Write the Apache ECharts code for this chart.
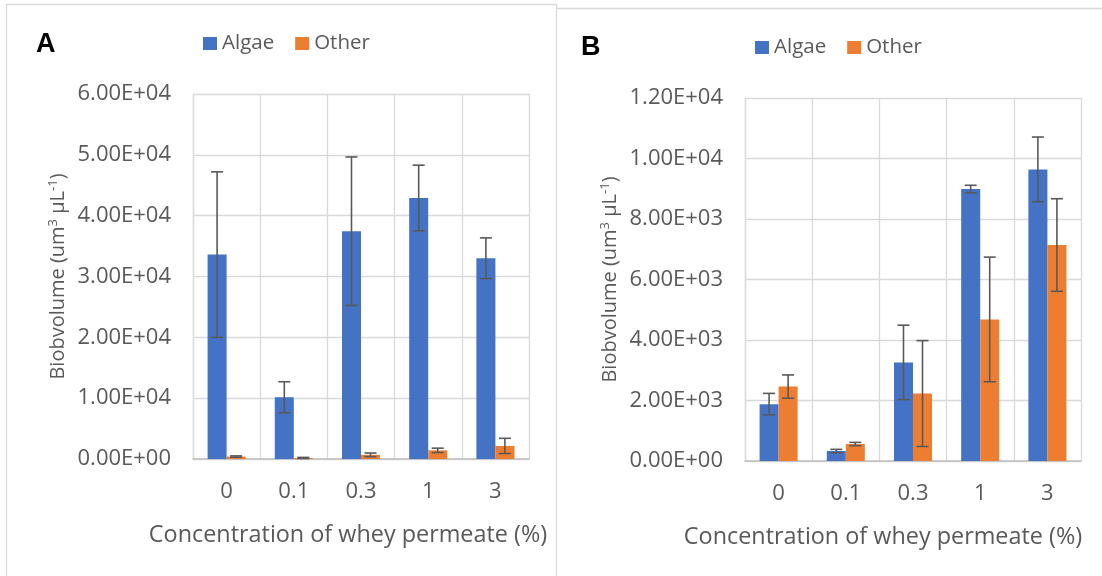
<!DOCTYPE html>
<html>
<head>
<meta charset="utf-8">
<script src="https://cdn.jsdelivr.net/npm/echarts@6/dist/echarts.min.js"></script>
<style>
  html, body { margin: 0; padding: 0; background: #fff; }
  #chart { width: 1102px; height: 576px; }
</style>
</head>
<body>
<div id="chart"></div>
<script>
// Whey permeate concentrations (%)
const categories = ['0', '0.1', '0.3', '1', '3'];

// Panel A: biovolume (um^3 µL^-1), means and standard errors
const algaeA    = [33600, 10150, 37450, 42900, 33000];
const algaeErrA = [13600, 2550, 12200, 5400, 3350];
const otherA    = [400, 170, 680, 1420, 2150];
const otherErrA = [110, 90, 300, 360, 1250];

// Panel B: biovolume (um^3 µL^-1), means and standard errors
const algaeB    = [1880, 330, 3260, 8990, 9640];
const algaeErrB = [355, 55, 1230, 125, 1070];
const otherB    = [2460, 560, 2230, 4680, 7140];
const otherErrB = [385, 55, 1750, 2060, 1530];

// Axis ranges
const yMaxA = 60000, yStepA = 10000;
const yMaxB = 12000, yStepB = 2000;

const BLUE = '#4472C4';
const ORANGE = '#ED7D31';
const TEXT = '#595959';
const GRID = '#d9d9d9';
const FONT = '"Open Sans", "Noto Sans", sans-serif';
const BAR_FRAC = 0.283;

function sci(v) {
  const parts = Number(v).toExponential(2).split('e');
  const exp = parseInt(parts[1], 10);
  const sign = exp < 0 ? '-' : '+';
  const e = String(Math.abs(exp)).padStart(2, '0');
  return parts[0] + 'E' + sign + e;
}

function errorSeries(name, values, errs, xIdx, side) {
  return {
    type: 'custom',
    name: name,
    xAxisIndex: xIdx,
    yAxisIndex: xIdx,
    z: 5,
    silent: true,
    data: values.map((v, i) => [i, v, errs[i]]),
    encode: { x: 0, y: 1 },
    renderItem: function (params, api) {
      const idx = api.value(0), val = api.value(1), err = api.value(2);
      const band = api.size([1, 0])[0];
      const dx = side * band * BAR_FRAC / 2;
      const hi = api.coord([idx, val + err]);
      const lo = api.coord([idx, Math.max(0, val - err)]);
      const x = hi[0] + dx;
      const cap = 6;
      const style = { stroke: TEXT, lineWidth: 1.6 };
      return {
        type: 'group',
        children: [
          { type: 'line', shape: { x1: x, y1: hi[1], x2: x, y2: lo[1] }, style: style },
          { type: 'line', shape: { x1: x - cap, y1: hi[1], x2: x + cap, y2: hi[1] }, style: style },
          { type: 'line', shape: { x1: x - cap, y1: lo[1], x2: x + cap, y2: lo[1] }, style: style }
        ]
      };
    }
  };
}

function barSeries(name, values, color, idx) {
  return {
    type: 'bar',
    name: name,
    xAxisIndex: idx,
    yAxisIndex: idx,
    data: values,
    barWidth: (BAR_FRAC * 100) + '%',
    barGap: '0%',
    itemStyle: { color: color },
    z: 2
  };
}

const yTitle = 'Biobvolume (um{sup|3} µL{sup|-1})';
const yTitleRich = {
  sup: { fontSize: 13, fontFamily: FONT, color: TEXT, verticalAlign: 'top', padding: [0, 0, 9, 0] }
};

function xAxisCfg(idx, shift) {
  return {
    type: 'category',
    gridIndex: idx,
    data: categories,
    axisTick: { show: false },
    axisLine: { show: true, lineStyle: { color: '#bfbfbf', width: 1.5 } },
    axisLabel: { color: TEXT, fontFamily: FONT, fontSize: 22, margin: 22 },
    splitLine: { show: true, lineStyle: { color: GRID, width: 1.3 } },
    name: 'Concentration of whey permeate (%)',
    nameLocation: 'middle',
    nameGap: 65,
    nameTextStyle: { color: TEXT, fontFamily: FONT, fontSize: 23.4, padding: [0, shift * 2, 0, 0] }
  };
}

function yAxisCfg(idx, max, step) {
  return {
    type: 'value',
    gridIndex: idx,
    min: 0,
    max: max,
    interval: step,
    axisLine: { show: true, lineStyle: { color: GRID, width: 1.3 } },
    axisTick: { show: false },
    axisLabel: { color: TEXT, fontFamily: FONT, fontSize: 22, margin: 22, formatter: sci },
    splitLine: { show: true, lineStyle: { color: GRID, width: 1.3 } },
    name: yTitle,
    nameLocation: 'middle',
    nameRotate: 90,
    nameGap: 124,
    nameTextStyle: { color: TEXT, fontFamily: FONT, fontSize: 20, rich: yTitleRich }
  };
}

const legendText = { color: TEXT, fontFamily: FONT, fontSize: 20.5 };

const chart = echarts.init(document.getElementById('chart'), null, { renderer: 'canvas' });

chart.setOption({
  backgroundColor: '#ffffff',
  animation: false,
  textStyle: { fontFamily: FONT },
  graphic: [
    // panel frames
    { type: 'line', shape: { x1: 6, y1: 4.5, x2: 556, y2: 4.5 }, style: { stroke: GRID, lineWidth: 1.3 } },
    { type: 'line', shape: { x1: 6.5, y1: 4, x2: 6.5, y2: 576 }, style: { stroke: GRID, lineWidth: 1.3 } },
    { type: 'line', shape: { x1: 556.5, y1: 4, x2: 556.5, y2: 576 }, style: { stroke: GRID, lineWidth: 1.3 } },
    { type: 'line', shape: { x1: 556, y1: 8.5, x2: 1102, y2: 8.5 }, style: { stroke: GRID, lineWidth: 1.3 } },
    // panel letters
    { type: 'text', left: 36, top: 31, style: { text: 'A', fill: '#000', font: 'bold 27px "Liberation Sans", Arial, sans-serif' } },
    { type: 'text', left: 581, top: 34, style: { text: 'B', fill: '#000', font: 'bold 27px "Liberation Sans", Arial, sans-serif' } }
  ],
  legend: [
    {
      left: 203, top: 33, padding: 0,
      data: ['Algae', 'Other'],
      icon: 'rect', itemWidth: 14, itemHeight: 13, itemGap: 21,
      textStyle: legendText
    },
    {
      left: 755, top: 37, padding: 0,
      data: ['Algae', 'Other'],
      icon: 'rect', itemWidth: 14, itemHeight: 13, itemGap: 21,
      textStyle: legendText
    }
  ],
  grid: [
    { left: 193, top: 94, width: 336, height: 365 },
    { left: 745, top: 98, width: 336, height: 363 }
  ],
  xAxis: [xAxisCfg(0, 13), xAxisCfg(1, 30)],
  yAxis: [yAxisCfg(0, yMaxA, yStepA), yAxisCfg(1, yMaxB, yStepB)],
  series: [
    barSeries('Algae', algaeA, BLUE, 0),
    barSeries('Other', otherA, ORANGE, 0),
    barSeries('Algae', algaeB, BLUE, 1),
    barSeries('Other', otherB, ORANGE, 1),
    errorSeries('Algae', algaeA, algaeErrA, 0, -1),
    errorSeries('Other', otherA, otherErrA, 0, 1),
    errorSeries('Algae', algaeB, algaeErrB, 1, -1),
    errorSeries('Other', otherB, otherErrB, 1, 1)
  ]
});
</script>
</body>
</html>
